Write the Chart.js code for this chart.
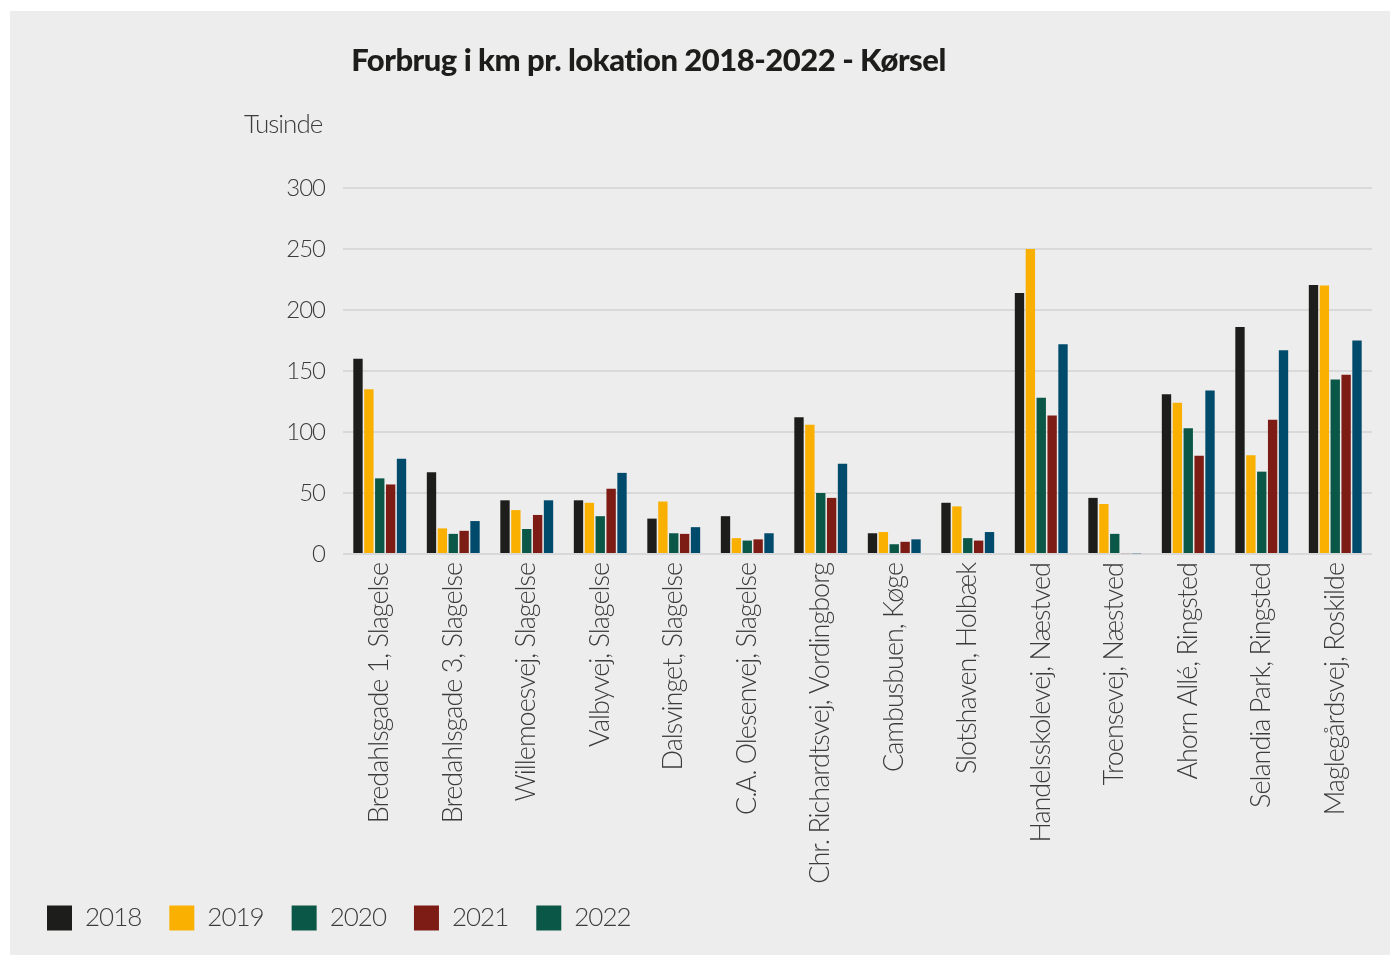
<!DOCTYPE html>
<html>
<head>
<meta charset="utf-8">
<script src="https://cdn.jsdelivr.net/npm/chart.js@4/dist/chart.umd.min.js"></script>
<style>
  html, body { margin: 0; padding: 0; background: #ffffff; }
  #panel { position: absolute; left: 10px; top: 11px; width: 1380px; height: 944px; background: #ededed; }
  canvas { display: block; }
</style>
</head>
<body>
<div id="panel"><canvas id="chart" width="1380" height="944"></canvas></div>
<script>
// Locations on the x axis
const locations = [
  'Bredahlsgade 1, Slagelse',
  'Bredahlsgade 3, Slagelse',
  'Willemoesvej, Slagelse',
  'Valbyvej, Slagelse',
  'Dalsvinget, Slagelse',
  'C.A. Olesenvej, Slagelse',
  'Chr. Richardtsvej, Vordingborg',
  'Cambusbuen, Køge',
  'Slotshaven, Holbæk',
  'Handelsskolevej, Næstved',
  'Troensevej, Næstved',
  'Ahorn Allé, Ringsted',
  'Selandia Park, Ringsted',
  'Maglegårdsvej, Roskilde'
];

const years = ['2018', '2019', '2020', '2021', '2022'];

// Kilometres driven, in thousands
const km2018 = [160, 67, 44, 44, 29, 31, 112, 17, 42, 214, 46, 131, 186, 220.5];
const km2019 = [135, 21, 36, 42, 43, 13, 106, 18, 39, 250, 41, 124, 81, 220];
const km2020 = [62, 16.5, 20.5, 31, 17, 11, 50, 8, 13, 128, 16.5, 103, 67.5, 143];
const km2021 = [57, 19, 32, 53.5, 16.5, 12, 46, 10, 11, 113.5, 0.6, 80.5, 110, 147];
const km2022 = [78, 27, 44, 66.5, 22, 17, 74, 12, 18, 172, 0.3, 134, 167, 175];

const yTickValues = [0, 50, 100, 150, 200, 250, 300];

const titleText = 'Forbrug i km pr. lokation 2018-2022 - Kørsel';
const unitText = 'Tusinde';

const barColors = ['#1d1d1b', '#f9b000', '#0a5747', '#7c1c14', '#004a6b'];
const legendColors = ['#1d1d1b', '#f9b000', '#0a5747', '#7c1c14', '#0a5747'];

const seriesValues = [km2018, km2019, km2020, km2021, km2022];

const LIGHT = "Lato, 'Open Sans', sans-serif";
const TEXT = '#3c3c3c';

// Tighter tracking for all chart text
const tracking = {
  id: 'tracking',
  beforeUpdate(chart) { chart.ctx.letterSpacing = '-1px'; },
  beforeDraw(chart) { chart.ctx.letterSpacing = '-1px'; },
  afterUpdate(chart) {
    // let the long rotated labels run past the axis box
    const x = chart.scales.x;
    if (x) x._computeLabelArea = () => undefined;
  }
};

// Title and unit caption painted on the canvas
const headings = {
  id: 'headings',
  afterDraw(chart) {
    const ctx = chart.ctx;
    ctx.save();
    ctx.letterSpacing = '-0.5px';
    ctx.fillStyle = '#1d1d1b';
    ctx.font = "900 31px Lato, 'Open Sans', sans-serif";
    ctx.textAlign = 'center';
    ctx.textBaseline = 'alphabetic';
    ctx.fillText(titleText, 638.5, 60);
    ctx.letterSpacing = '-1px';
    ctx.fillStyle = TEXT;
    ctx.font = '300 26px ' + LIGHT;
    ctx.textAlign = 'left';
    ctx.textBaseline = 'middle';
    ctx.fillText(unitText, 234, 114);
    ctx.restore();
  }
};

// Light base line laid over the foot of the bars
const baseLine = {
  id: 'baseLine',
  afterDatasetsDraw(chart) {
    const { ctx, chartArea } = chart;
    ctx.save();
    ctx.strokeStyle = 'rgba(215,215,215,0.55)';
    ctx.lineWidth = 2;
    ctx.beginPath();
    ctx.moveTo(chartArea.left, chartArea.bottom);
    ctx.lineTo(chartArea.right, chartArea.bottom);
    ctx.stroke();
    ctx.restore();
  }
};

new Chart(document.getElementById('chart'), {
  type: 'bar',
  data: {
    labels: locations,
    datasets: years.map((y, i) => ({
      label: y,
      data: seriesValues[i],
      backgroundColor: barColors[i],
      borderWidth: 0,
      barPercentage: 0.86,
      categoryPercentage: 0.74
    }))
  },
  options: {
    responsive: false,
    animation: false,
    layout: { padding: { left: 9, right: 18, top: 177, bottom: 14 } },
    scales: {
      x: {
        grid: { display: false, drawTicks: false },
        border: { display: false },
        ticks: {
          autoSkip: false,
          maxRotation: 90,
          minRotation: 90,
          padding: 9,
          color: TEXT,
          font: { family: LIGHT, size: 27, weight: 300 }
        },
        afterFit(scale) { scale.height = 323; }
      },
      y: {
        min: 0,
        max: 300,
        afterBuildTicks(scale) { scale.ticks = yTickValues.map(v => ({ value: v })); },
        grid: { color: '#d9d9d9', lineWidth: 2, drawTicks: false },
        border: { display: false },
        ticks: {
          padding: 18,
          color: TEXT,
          font: { family: LIGHT, size: 24, weight: 300 }
        },
        afterFit(scale) { scale.width = 324; }
      }
    },
    plugins: {
      legend: {
        position: 'bottom',
        align: 'start',
        labels: {
          boxWidth: 25,
          boxHeight: 25,
          padding: 28,
          color: TEXT,
          font: { family: LIGHT, size: 26, weight: 300 },
          generateLabels(chart) {
            const items = Chart.defaults.plugins.legend.labels.generateLabels(chart);
            items.forEach((it, i) => { it.fillStyle = legendColors[i]; it.strokeStyle = legendColors[i]; it.lineWidth = 0; });
            return items;
          }
        }
      },
      tooltip: { enabled: false }
    }
  },
  plugins: [tracking, headings, baseLine]
});
</script>
</body>
</html>
